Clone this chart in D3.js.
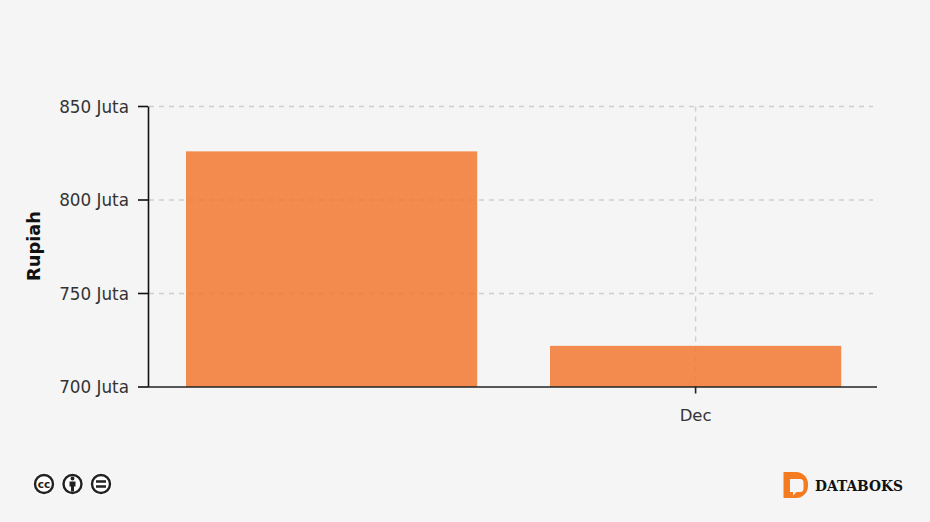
<!DOCTYPE html>
<html><head><meta charset="utf-8">
<script src="https://cdn.jsdelivr.net/npm/d3@7"></script>
<style>html,body{margin:0;padding:0;background:#f5f5f5}svg{display:block}text{font-family:"DejaVu Sans",sans-serif}</style>
</head><body><div id="c"></div>
<script>
const categories = ["Nov", "Dec"];
const tickCategories = ["Dec"];
const values = [826, 722];
const yTicks = [700, 750, 800, 850];
const yTickLabels = ["700 Juta", "750 Juta", "800 Juta", "850 Juta"];
const yTitle = "Rupiah";

const W = 930, H = 522;
const svg = d3.select("#c").append("svg").attr("width", W).attr("height", H);
svg.append("rect").attr("width", W).attr("height", H).attr("fill", "#f5f5f5");
const x = d3.scaleBand().domain(categories).range([149.6, 877.6]).paddingInner(0.2).paddingOuter(0.1);
const y = d3.scaleLinear().domain([700, 850]).range([387, 106.5]);

const grid = svg.append("g").attr("stroke", "#cecece").attr("stroke-width", 1.4).attr("stroke-dasharray", "5 5");
grid.selectAll("line.h").data(yTicks.slice(1)).join("line").attr("class", "h")
  .attr("x1", 149).attr("x2", 873).attr("y1", d => y(d)).attr("y2", d => y(d));
grid.selectAll("line.v").data(tickCategories).join("line").attr("class", "v")
  .attr("x1", d => x(d) + x.bandwidth() / 2).attr("x2", d => x(d) + x.bandwidth() / 2)
  .attr("y1", 106.5).attr("y2", 387);

svg.selectAll("rect.bar").data(values).join("rect").attr("class", "bar")
  .attr("x", (d, i) => x(categories[i])).attr("width", x.bandwidth())
  .attr("y", d => y(d)).attr("height", d => y(700) - y(d))
  .attr("fill", "#f27830").attr("fill-opacity", 0.85);

const yAxis = d3.axisLeft(y).tickValues(yTicks).tickFormat((d, i) => yTickLabels[i]).tickSize(10).tickPadding(9).tickSizeOuter(0);
const gy = svg.append("g").attr("transform", "translate(148,-0.5)").call(yAxis);
gy.selectAll("text").attr("font-size", 16.8).attr("dy", "0.38em").attr("fill", "#333").attr("font-family", "DejaVu Sans");
gy.selectAll("line,path").attr("stroke", "#111").attr("stroke-width", 1.6);

const xAxis = d3.axisBottom(x).tickValues(tickCategories).tickSize(7).tickPadding(16).tickSizeOuter(0);
const gx = svg.append("g").attr("transform", "translate(0,386.5)").call(xAxis);
gx.selectAll("text").attr("font-size", 16.5).attr("fill", "#333").attr("font-family", "DejaVu Sans");
gx.selectAll("line,path").attr("stroke", "#222").attr("stroke-width", 1.6);
gx.select("path").attr("d", "M148,0.5H877");

svg.append("text").attr("transform", "translate(40,246) rotate(-90)").attr("text-anchor", "middle")
  .attr("font-size", 17.8).attr("font-weight", "bold").attr("fill", "#111").text(yTitle);

// CC icons
const cc = svg.append("g").attr("fill", "none").attr("stroke", "#222");
[44, 72.5, 101].forEach(cx => {
  cc.append("circle").attr("cx", cx).attr("cy", 484).attr("r", 11).attr("stroke", "none").attr("fill", "#fff");
  cc.append("circle").attr("cx", cx).attr("cy", 484).attr("r", 9).attr("stroke-width", 2.4);
});
cc.append("text").attr("x", 44).attr("y", 487.5).attr("text-anchor", "middle").attr("font-size", 10.5).attr("font-weight", "bold").attr("fill", "#222").attr("stroke", "none").text("cc");
cc.append("circle").attr("cx", 72.5).attr("cy", 478.5).attr("r", 1.9).attr("fill", "#222").attr("stroke", "none");
cc.append("path").attr("d", "M69.5 481.500h6v5h-1.500v5h-3v-5h-1.500z").attr("fill", "#222").attr("stroke", "none");
cc.append("path").attr("d", "M96 481.500h10M96 486.500h10").attr("stroke-width", 2.4);

// Databoks logo
svg.append("path").attr("fill-rule", "evenodd").attr("fill", "#f47b20")
  .attr("d", "M783.500 472h12.500a12 12 0 0 1 12 12v2a12 12 0 0 1 -12 12h-12.500z M790 479v13h3v3.500l3.500 -3.500h3.500a3.500 3.500 0 0 0 3.500 -3.500v-6a3.500 3.500 0 0 0 -3.500 -3.500z");
svg.append("text").attr("x", 815).attr("y", 491).attr("font-weight", "bold")
  .attr("font-size", 15).attr("textLength", 88).attr("lengthAdjust", "spacingAndGlyphs").attr("fill", "#111").style("font-family", "'DejaVu Serif',serif").text("DATABOKS");
</script></body></html>
